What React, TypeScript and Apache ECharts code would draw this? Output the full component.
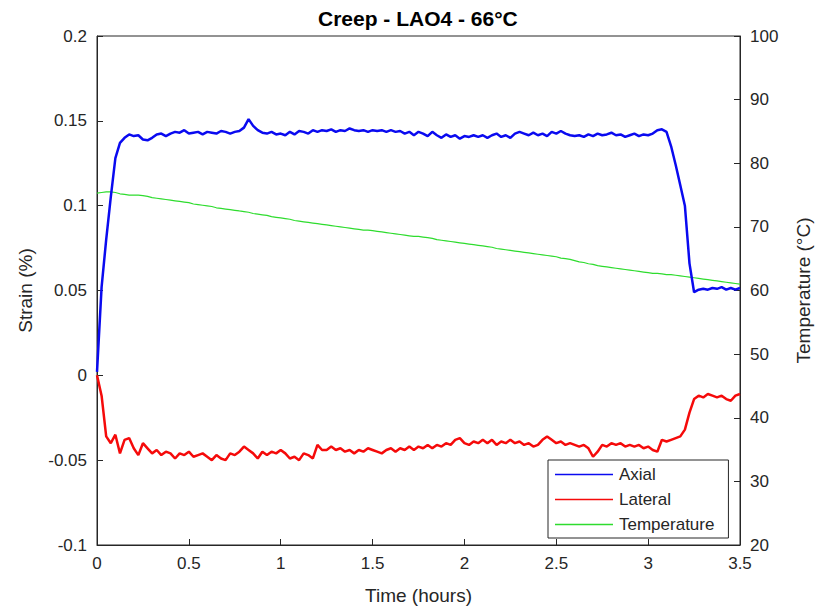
import React, { useEffect, useRef } from "react";
import * as echarts from "echarts";

const timeHours = [
  0, 0.025, 0.05, 0.075, 0.1, 0.125, 0.15, 0.175, 0.2, 0.225,
  0.25, 0.275, 0.3, 0.325, 0.35, 0.375, 0.4, 0.425, 0.45, 0.475,
  0.5, 0.525, 0.55, 0.575, 0.6, 0.625, 0.65, 0.675, 0.7, 0.725,
  0.75, 0.775, 0.8, 0.825, 0.85, 0.875, 0.9, 0.925, 0.95, 0.975,
  1.0, 1.025, 1.05, 1.075, 1.1, 1.125, 1.15, 1.175, 1.2, 1.225,
  1.25, 1.275, 1.3, 1.325, 1.35, 1.375, 1.4, 1.425, 1.45, 1.475,
  1.5, 1.525, 1.55, 1.575, 1.6, 1.625, 1.65, 1.675, 1.7, 1.725,
  1.75, 1.775, 1.8, 1.825, 1.85, 1.875, 1.9, 1.925, 1.95, 1.975,
  2.0, 2.025, 2.05, 2.075, 2.1, 2.125, 2.15, 2.175, 2.2, 2.225,
  2.25, 2.275, 2.3, 2.325, 2.35, 2.375, 2.4, 2.425, 2.45, 2.475,
  2.5, 2.525, 2.55, 2.575, 2.6, 2.625, 2.65, 2.675, 2.7, 2.725,
  2.75, 2.775, 2.8, 2.825, 2.85, 2.875, 2.9, 2.925, 2.95, 2.975,
  3.0, 3.025, 3.05, 3.075, 3.1, 3.125, 3.15, 3.175, 3.2, 3.225,
  3.25, 3.275, 3.3, 3.325, 3.35, 3.375, 3.4, 3.425, 3.45, 3.475,
  3.5,
];

const axialStrain = [
  0.002, 0.052, 0.080, 0.105, 0.128, 0.137, 0.140, 0.142, 0.141, 0.1415,
  0.139, 0.1385, 0.140, 0.142, 0.1425, 0.141, 0.1425, 0.1435, 0.143, 0.1445,
  0.1425, 0.143, 0.1435, 0.142, 0.1435, 0.143, 0.1425, 0.144, 0.1435, 0.1425,
  0.1435, 0.144, 0.146, 0.151, 0.147, 0.1445, 0.143, 0.1425, 0.1435, 0.142,
  0.1425, 0.1415, 0.1435, 0.142, 0.144, 0.1435, 0.1425, 0.1445, 0.1435, 0.1445,
  0.144, 0.145, 0.1435, 0.1445, 0.144, 0.1455, 0.1445, 0.144, 0.1445, 0.1435,
  0.1445, 0.144, 0.1445, 0.1435, 0.1445, 0.1435, 0.144, 0.1425, 0.1435, 0.1415,
  0.1435, 0.1425, 0.141, 0.1435, 0.1415, 0.140, 0.142, 0.1405, 0.1415, 0.1395,
  0.141, 0.1405, 0.1415, 0.1405, 0.1415, 0.140, 0.1415, 0.1425, 0.1405, 0.1415,
  0.140, 0.1425, 0.1435, 0.1425, 0.1415, 0.143, 0.1415, 0.1425, 0.141, 0.1435,
  0.1425, 0.144, 0.1425, 0.1415, 0.141, 0.1415, 0.1405, 0.142, 0.141, 0.1425,
  0.1415, 0.142, 0.143, 0.1415, 0.142, 0.1405, 0.1415, 0.1425, 0.141, 0.142,
  0.1415, 0.1425, 0.1445, 0.145, 0.1435, 0.135, 0.124, 0.112, 0.100, 0.066,
  0.049, 0.0505, 0.051, 0.0505, 0.0515, 0.051, 0.052, 0.0505, 0.0515, 0.0505,
  0.0515,
];

const lateralStrain = [
  0.0, -0.012, -0.036, -0.040, -0.035, -0.046, -0.038, -0.037, -0.043, -0.047,
  -0.040, -0.043, -0.046, -0.044, -0.047, -0.045, -0.046, -0.049, -0.046, -0.047,
  -0.045, -0.048, -0.047, -0.046, -0.048, -0.050, -0.047, -0.049, -0.050, -0.046,
  -0.047, -0.045, -0.042, -0.044, -0.046, -0.049, -0.045, -0.047, -0.045, -0.046,
  -0.044, -0.046, -0.049, -0.048, -0.050, -0.046, -0.047, -0.049, -0.041, -0.044,
  -0.044, -0.042, -0.044, -0.043, -0.045, -0.044, -0.046, -0.044, -0.045, -0.043,
  -0.044, -0.045, -0.046, -0.044, -0.043, -0.045, -0.043, -0.044, -0.042, -0.044,
  -0.042, -0.043, -0.041, -0.043, -0.041, -0.042, -0.040, -0.041, -0.038, -0.037,
  -0.040, -0.041, -0.039, -0.040, -0.038, -0.040, -0.038, -0.041, -0.039, -0.040,
  -0.038, -0.040, -0.039, -0.041, -0.040, -0.042, -0.041, -0.038, -0.036, -0.038,
  -0.040, -0.039, -0.041, -0.040, -0.041, -0.042, -0.041, -0.043, -0.048, -0.045,
  -0.041, -0.042, -0.040, -0.041, -0.040, -0.042, -0.041, -0.042, -0.041, -0.043,
  -0.042, -0.044, -0.045, -0.038, -0.039, -0.038, -0.037, -0.036, -0.032, -0.022,
  -0.014, -0.012, -0.013, -0.011, -0.012, -0.013, -0.012, -0.014, -0.015, -0.012,
  -0.011,
];

const temperatureC = [
  75.3, 75.4, 75.5, 75.5, 75.4, 75.2, 75.1, 75.0, 75.0, 75.0,
  74.9, 74.8, 74.6, 74.5, 74.4, 74.3, 74.2, 74.1, 74.0, 73.9,
  73.8, 73.6, 73.5, 73.4, 73.3, 73.2, 73.0, 72.9, 72.8, 72.7,
  72.6, 72.5, 72.4, 72.3, 72.1, 72.0, 71.9, 71.8, 71.6, 71.5,
  71.4, 71.3, 71.2, 71.0, 70.9, 70.8, 70.7, 70.6, 70.5, 70.4,
  70.3, 70.2, 70.1, 70.0, 69.9, 69.8, 69.7, 69.6, 69.5, 69.5,
  69.4, 69.3, 69.2, 69.1, 69.0, 68.9, 68.8, 68.7, 68.6, 68.5,
  68.5, 68.4, 68.3, 68.2, 68.0, 67.9, 67.8, 67.7, 67.6, 67.5,
  67.4, 67.3, 67.2, 67.1, 67.0, 66.9, 66.8, 66.6, 66.5, 66.4,
  66.3, 66.2, 66.1, 66.0, 65.9, 65.8, 65.7, 65.6, 65.5, 65.4,
  65.3, 65.1, 65.0, 64.9, 64.7, 64.5, 64.4, 64.2, 64.1, 63.9,
  63.8, 63.7, 63.6, 63.5, 63.4, 63.3, 63.2, 63.1, 63.0, 62.9,
  62.8, 62.7, 62.7, 62.6, 62.5, 62.5, 62.4, 62.3, 62.2, 62.1,
  62.0, 61.9, 61.8, 61.7, 61.6, 61.5, 61.4, 61.3, 61.2, 61.1,
  61.0,
];

const seriesNames = ["Axial", "Lateral", "Temperature"];
const seriesColors = ["#0a0af0", "#f50a0a", "#2edc2e"];

const zip = (ys: number[]) => timeHours.map((t, i) => [t, ys[i]]);

const TEXT = "#262626";
const FONT = "'Liberation Sans', Arial, Helvetica, sans-serif";

export default function App() {
  const ref = useRef<HTMLDivElement>(null);
  useEffect(() => {
    document.body.style.margin = "0";
    if (!ref.current) return;
    const chart = echarts.init(ref.current, null, { renderer: "svg" });
    const axisCommon = {
      axisLine: { show: true, onZero: false, lineStyle: { color: TEXT, width: 1 } },
      axisTick: { show: true, inside: true, length: 6, lineStyle: { color: TEXT } },
      splitLine: { show: false },
      axisLabel: { color: TEXT, fontSize: 17, fontFamily: FONT, margin: 10 },
      nameTextStyle: { color: TEXT, fontSize: 19, fontFamily: FONT },
    };
    chart.setOption({
      animation: false,
      backgroundColor: "#ffffff",
      textStyle: { fontFamily: FONT },
      title: {
        text: "Creep - LAO4 - 66°C",
        left: 313,
        top: 3,
        textStyle: { color: "#000", fontSize: 21, fontWeight: "bold", fontFamily: FONT },
      },
      grid: {
        left: 97,
        right: 77,
        top: 36,
        bottom: 64,
        outerBoundsMode: "none",
        containLabel: false,
        show: true,
        borderColor: TEXT,
        borderWidth: 1,
        backgroundColor: "transparent",
      },
      legend: {
        orient: "vertical",
        left: 548,
        top: 460,
        data: seriesNames,
        icon: "rect",
        itemWidth: 58,
        itemHeight: 1.5,
        itemGap: 8,
        padding: [6, 14, 5, 7],
        backgroundColor: "#ffffff",
        borderColor: TEXT,
        borderWidth: 1,
        borderRadius: 0,
        textStyle: { color: TEXT, fontSize: 17, fontFamily: FONT, padding: [0, 0, 0, 1] },
      },
      xAxis: {
        type: "value",
        min: 0,
        max: 3.5,
        interval: 0.5,
        name: "Time (hours)",
        nameLocation: "middle",
        nameGap: 41,
        ...axisCommon,
      },
      yAxis: [
        {
          type: "value",
          min: -0.1,
          max: 0.2,
          interval: 0.05,
          name: "Strain (%)",
          nameLocation: "middle",
          nameGap: 62,
          position: "left",
          ...axisCommon,
        },
        {
          type: "value",
          min: 20,
          max: 100,
          interval: 10,
          name: "Temperature (°C)",
          nameLocation: "middle",
          nameGap: 54,
          position: "right",
          ...axisCommon,
        },
      ],
      series: [
        {
          name: seriesNames[0],
          type: "line",
          yAxisIndex: 0,
          data: zip(axialStrain),
          showSymbol: false,
          symbol: "none",
          lineStyle: { color: seriesColors[0], width: 2.5 },
          itemStyle: { color: seriesColors[0] },
          z: 3,
        },
        {
          name: seriesNames[1],
          type: "line",
          yAxisIndex: 0,
          data: zip(lateralStrain),
          showSymbol: false,
          symbol: "none",
          lineStyle: { color: seriesColors[1], width: 2.5 },
          itemStyle: { color: seriesColors[1] },
          z: 3,
        },
        {
          name: seriesNames[2],
          type: "line",
          yAxisIndex: 1,
          data: zip(temperatureC),
          showSymbol: false,
          symbol: "none",
          lineStyle: { color: seriesColors[2], width: 1.2 },
          itemStyle: { color: seriesColors[2] },
          z: 2,
        },
      ],
    });
    return () => chart.dispose();
  }, []);
  return <div ref={ref} style={{ width: 817, height: 609 }} />;
}
